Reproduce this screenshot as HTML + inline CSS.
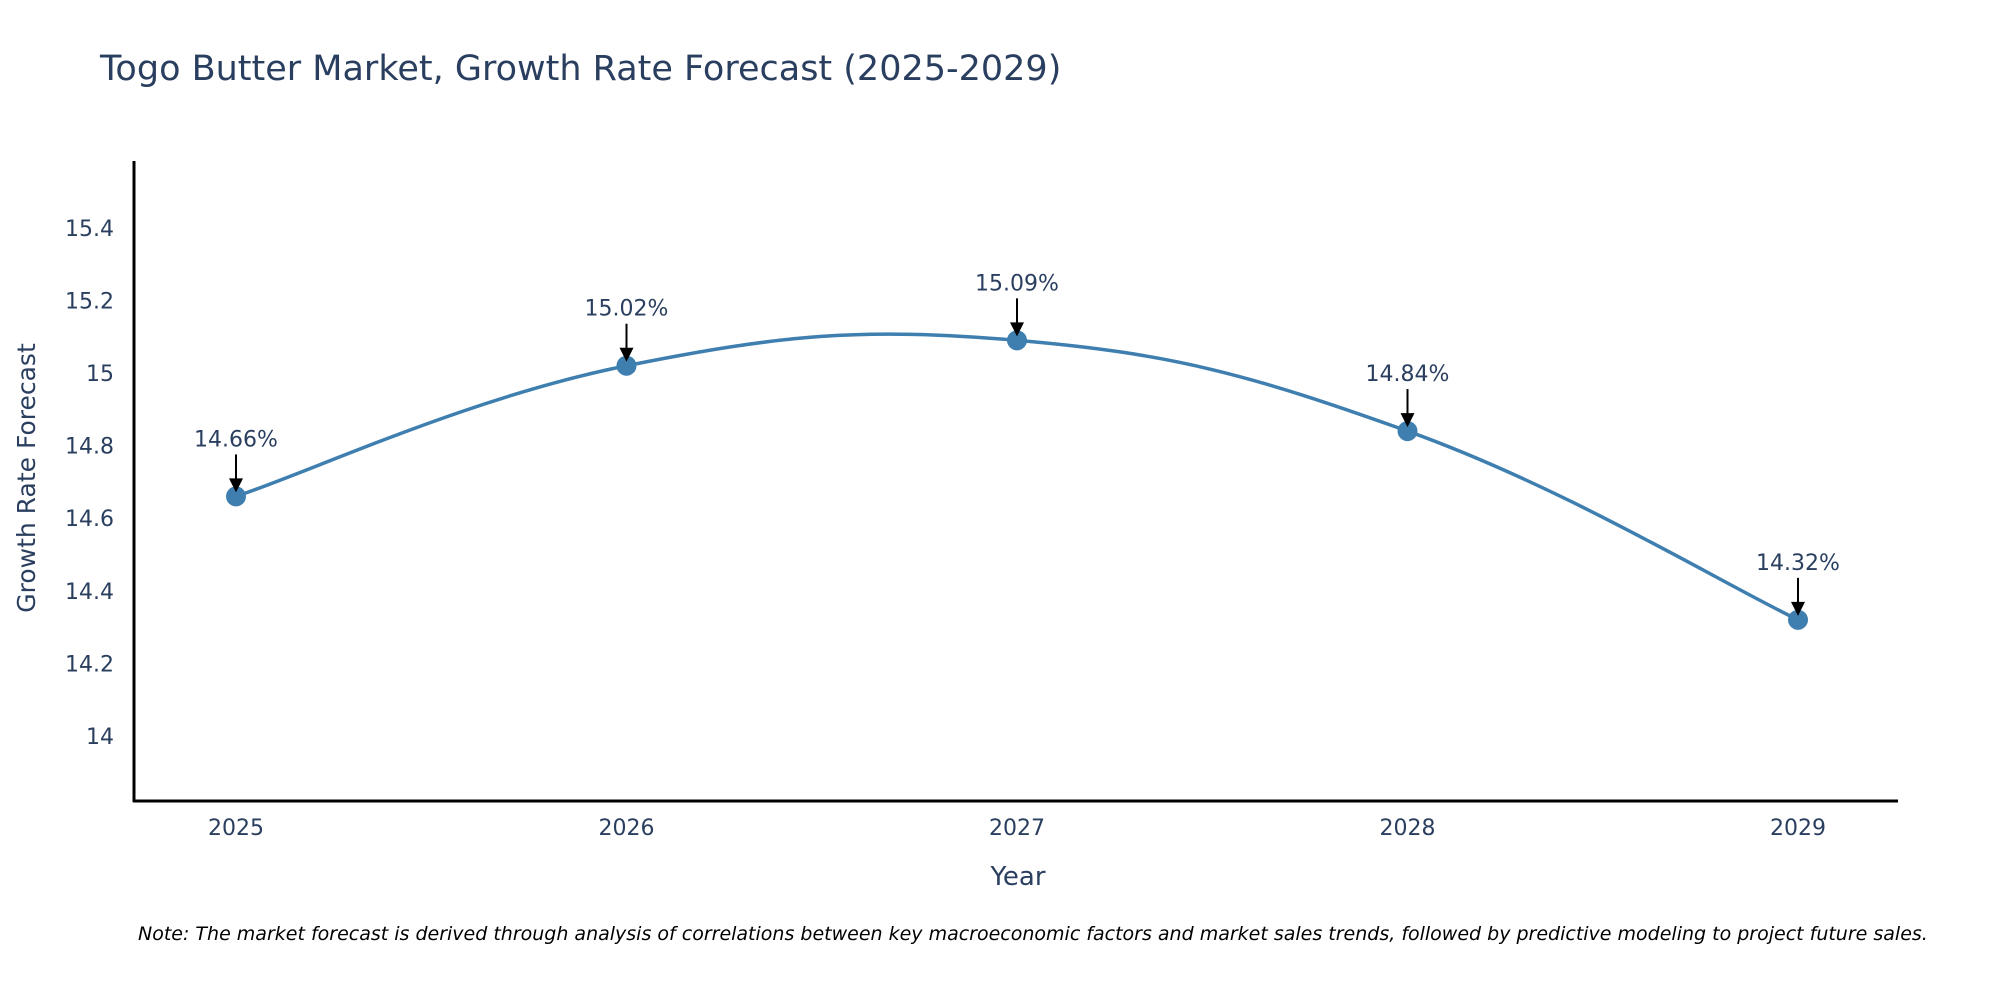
<!DOCTYPE html>
<html><head><meta charset="utf-8"><style>
html,body{margin:0;padding:0;background:#fff;}
svg{display:block;font-family:"DejaVu Sans","Liberation Sans",sans-serif;}
</style></head><body>
<svg id="chart" width="2000" height="1000" xmlns="http://www.w3.org/2000/svg">
<text x="100" y="80" font-size="35" fill="#2a3f5f">Togo Butter Market, Growth Rate Forecast (2025-2029)</text>
<g id="yticks"></g>
<g id="xticks"></g>
<line x1="134" y1="161" x2="134" y2="802" stroke="#000" stroke-width="3"/>
<line x1="133" y1="801" x2="1898" y2="801" stroke="#000" stroke-width="3"/>
<path id="line" fill="none" stroke="#3f7fb0" stroke-width="3.5"/>
<g id="points"></g>
<g id="annots"></g>
<text x="1018" y="885" font-size="26" fill="#2a3f5f" text-anchor="middle">Year</text>
<text transform="translate(35,478) rotate(-90)" font-size="25" fill="#2a3f5f" text-anchor="middle">Growth Rate Forecast</text>
<text x="138" y="940" font-size="19" font-style="italic" fill="#000">Note: The market forecast is derived through analysis of correlations between key macroeconomic factors and market sales trends, followed by predictive modeling to project future sales.</text>
</svg>
<script>
const years = [2025, 2026, 2027, 2028, 2029];
const values = [14.66, 15.02, 15.09, 14.84, 14.32];
const labels = ["14.66%", "15.02%", "15.09%", "14.84%", "14.32%"];
const yTicks = [14, 14.2, 14.4, 14.6, 14.8, 15, 15.2, 15.4];
const NS = "http://www.w3.org/2000/svg";
function xs(v){ return 236 + (v - 2025) * 390.5; }
function ys(v){ return 736 - (v - 14) * 363; }
function mk(tag, attrs, parent){ const e=document.createElementNS(NS,tag); for(const k in attrs) e.setAttribute(k,attrs[k]); parent.appendChild(e); return e; }
const yg=document.getElementById('yticks');
yTicks.forEach(t=>{
  const e=mk('text',{x:114,y:ys(t)+8,'font-size':22,fill:'#2a3f5f','text-anchor':'end'},yg);
  
  
  e.textContent=String(t);
});
const xg=document.getElementById('xticks');
years.forEach(y=>{
  const e=mk('text',{x:xs(y),y:835,'font-size':22,fill:'#2a3f5f','text-anchor':'middle'},xg);
  
  
  e.textContent=String(y);
});
const P=years.map((y,i)=>[xs(y),ys(values[i])]);
let d='M'+P[0][0]+','+P[0][1];
const s=0.2;
for(let i=0;i<P.length-1;i++){
  const p0=P[Math.max(i-1,0)],p1=P[i],p2=P[i+1],p3=P[Math.min(i+2,P.length-1)];
  const c1=[p1[0]+(p2[0]-p0[0])*s,p1[1]+(p2[1]-p0[1])*s];
  const c2=[p2[0]-(p3[0]-p1[0])*s,p2[1]-(p3[1]-p1[1])*s];
  d+=' C'+c1[0]+','+c1[1]+' '+c2[0]+','+c2[1]+' '+p2[0]+','+p2[1];
}
document.getElementById('line').setAttribute('d',d);
const pg=document.getElementById('points'), ag=document.getElementById('annots');
P.forEach((p,i)=>{
  const c=mk('circle',{cx:p[0],cy:p[1],r:10,fill:'#3f7fb0'},pg);
  
  
  const l=mk('line',{x1:p[0],y1:p[1]-42,x2:p[0],y2:p[1]-16,stroke:'#000','stroke-width':2},ag);
  
  
  const h=mk('polygon',{points:(p[0]-7)+','+(p[1]-18)+' '+(p[0]+7)+','+(p[1]-18)+' '+p[0]+','+(p[1]-4),fill:'#000'},ag);
  
  
  const t=mk('text',{x:p[0],y:p[1]-50,'font-size':22,fill:'#2a3f5f','text-anchor':'middle'},ag);
  
  
  t.textContent=labels[i];
});
</script>
</body></html>
